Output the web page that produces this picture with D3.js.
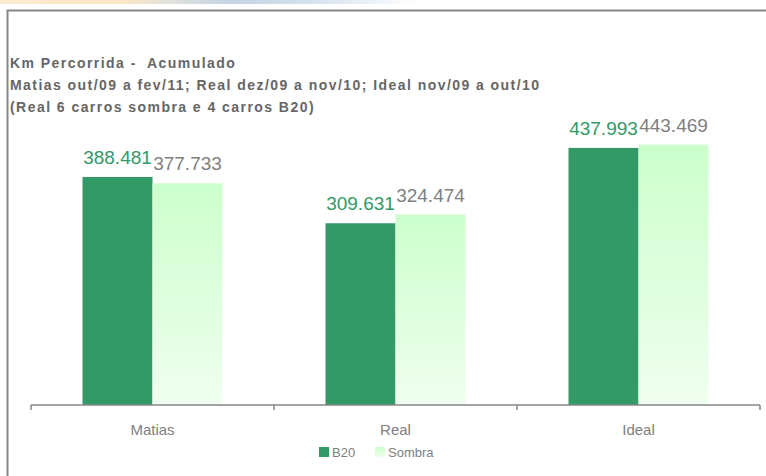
<!DOCTYPE html>
<html>
<head>
<meta charset="utf-8">
<script src="https://cdn.jsdelivr.net/npm/d3@7"></script>
<style>
  body { margin: 0; background: #fff; }
  svg { display: block; font-family: Arial, "Liberation Sans", sans-serif; }
</style>
</head>
<body>
<div id="plot"></div>
<script>
// categories and the two series (km, thousands separated by "." in the labels)
const categories = ["Matias", "Real", "Ideal"];
const seriesNames = ["B20", "Sombra"];
const b20 = [388481, 309631, 437993];
const sombra = [377733, 324474, 443469];
const titleLines = [
  "Km Percorrida -  Acumulado",
  "Matias out/09 a fev/11; Real dez/09 a nov/10; Ideal nov/09 a out/10",
  "(Real 6 carros sombra e 4 carros B20)"
];

const width = 766, height = 476;
const margin = {left: 31, right: 6, bottom: 71, top: 111.5};
const green = "#339966";
const grey = "#868686";

const svg = d3.select("#plot").append("svg")
  .attr("width", width)
  .attr("height", height);

const defs = svg.append("defs");
// the faded strip across the top of the slide
const strip = defs.append("linearGradient").attr("id", "strip");
strip.append("stop").attr("offset", "0%").attr("stop-color", "#fdebd0");
strip.append("stop").attr("offset", "30%").attr("stop-color", "#fbe6c6");
strip.append("stop").attr("offset", "40%").attr("stop-color", "#e2e2dc");
strip.append("stop").attr("offset", "55%").attr("stop-color", "#c3d4e4");
strip.append("stop").attr("offset", "75%").attr("stop-color", "#d6e3ee");
strip.append("stop").attr("offset", "100%").attr("stop-color", "#ffffff");

const fade = defs.append("linearGradient").attr("id", "sombraFill")
  .attr("x1", 0).attr("y1", 0).attr("x2", 0).attr("y2", 1);
fade.append("stop").attr("offset", "0%").attr("stop-color", "#ccffcc");
fade.append("stop").attr("offset", "100%").attr("stop-color", "#f0fff0");

svg.append("rect")
  .attr("x", 0).attr("y", 0).attr("width", 420).attr("height", 4)
  .attr("fill", "url(#strip)");

// chart frame (top and left edges visible)
svg.append("path")
  .attr("d", `M7.5,${height} V10.5 H${width}`)
  .attr("fill", "none")
  .attr("stroke", grey)
  .attr("stroke-width", 2);

// title
svg.append("g")
  .selectAll("text")
  .data(titleLines)
  .join("text")
    .attr("x", 10)
    .attr("y", (d, i) => 68 + i * 22)
    .attr("font-size", 14)
    .attr("font-weight", "bold")
    .attr("letter-spacing", 1.45)
    .attr("fill", "#666666")
    .style("white-space", "pre")
    .text(d => d);

// scales
const x = d3.scaleBand(categories, [margin.left, width - margin.right]);
const groupWidth = 140;
const x1 = d3.scaleBand(seriesNames, [0, groupWidth]);
const y = d3.scaleLinear([0, 500000], [height - margin.bottom, margin.top]);

const rows = categories.map((c, i) => ({cat: c, values: [b20[i], sombra[i]]}));
const fmt = d3.formatLocale({decimal: ",", thousands: ".", grouping: [3], currency: ["", ""]}).format(",d");

const groups = svg.append("g")
  .selectAll("g")
  .data(rows)
  .join("g")
    .attr("transform", d => `translate(${x(d.cat) + (x.bandwidth() - groupWidth) / 2},0)`);

groups.selectAll("rect")
  .data(d => d.values.map((v, j) => ({key: seriesNames[j], v})))
  .join("rect")
    .attr("x", d => x1(d.key))
    .attr("y", d => y(d.v))
    .attr("width", x1.bandwidth())
    .attr("height", d => y(0) - y(d.v))
    .attr("fill", d => d.key === "B20" ? green : "url(#sombraFill)");

groups.selectAll("text")
  .data(d => d.values.map((v, j) => ({key: seriesNames[j], v})))
  .join("text")
    .attr("x", d => x1(d.key) + x1.bandwidth() / 2)
    .attr("y", d => y(d.v) - 13)
    .attr("text-anchor", "middle")
    .attr("font-size", 19)
    .attr("fill", d => d.key === "B20" ? green : "#808080")
    .text(d => fmt(d.v));

// category axis: ticks sit on the band edges, labels in the middle
const axisY = y(0);
const axis = svg.append("g");
axis.append("line")
  .attr("x1", margin.left).attr("x2", width - margin.right)
  .attr("y1", axisY).attr("y2", axisY)
  .attr("stroke", grey).attr("stroke-width", 1.5);
const edges = categories.map(c => x(c)).concat([x(categories[categories.length - 1]) + x.bandwidth()]);
axis.selectAll(".edge")
  .data(edges)
  .join("line")
    .attr("class", "edge")
    .attr("x1", d => d).attr("x2", d => d)
    .attr("y1", axisY).attr("y2", axisY + 5)
    .attr("stroke", grey).attr("stroke-width", 1.5);
axis.selectAll(".cat")
  .data(categories)
  .join("text")
    .attr("class", "cat")
    .attr("x", d => x(d) + x.bandwidth() / 2)
    .attr("y", axisY + 30)
    .attr("text-anchor", "middle")
    .attr("font-size", 15)
    .attr("fill", "#808080")
    .text(d => d);

// legend
const legendX = [319, 375];
const legend = svg.append("g")
  .selectAll("g")
  .data(seriesNames)
  .join("g")
    .attr("transform", (d, i) => `translate(${legendX[i]},447)`);
legend.append("rect")
  .attr("width", 10).attr("height", 10)
  .attr("fill", d => d === "B20" ? green : "url(#sombraFill)");
legend.append("text")
  .attr("x", 13).attr("y", 10)
  .attr("font-size", 13)
  .attr("fill", "#808080")
  .text(d => d);
</script>
</body>
</html>
